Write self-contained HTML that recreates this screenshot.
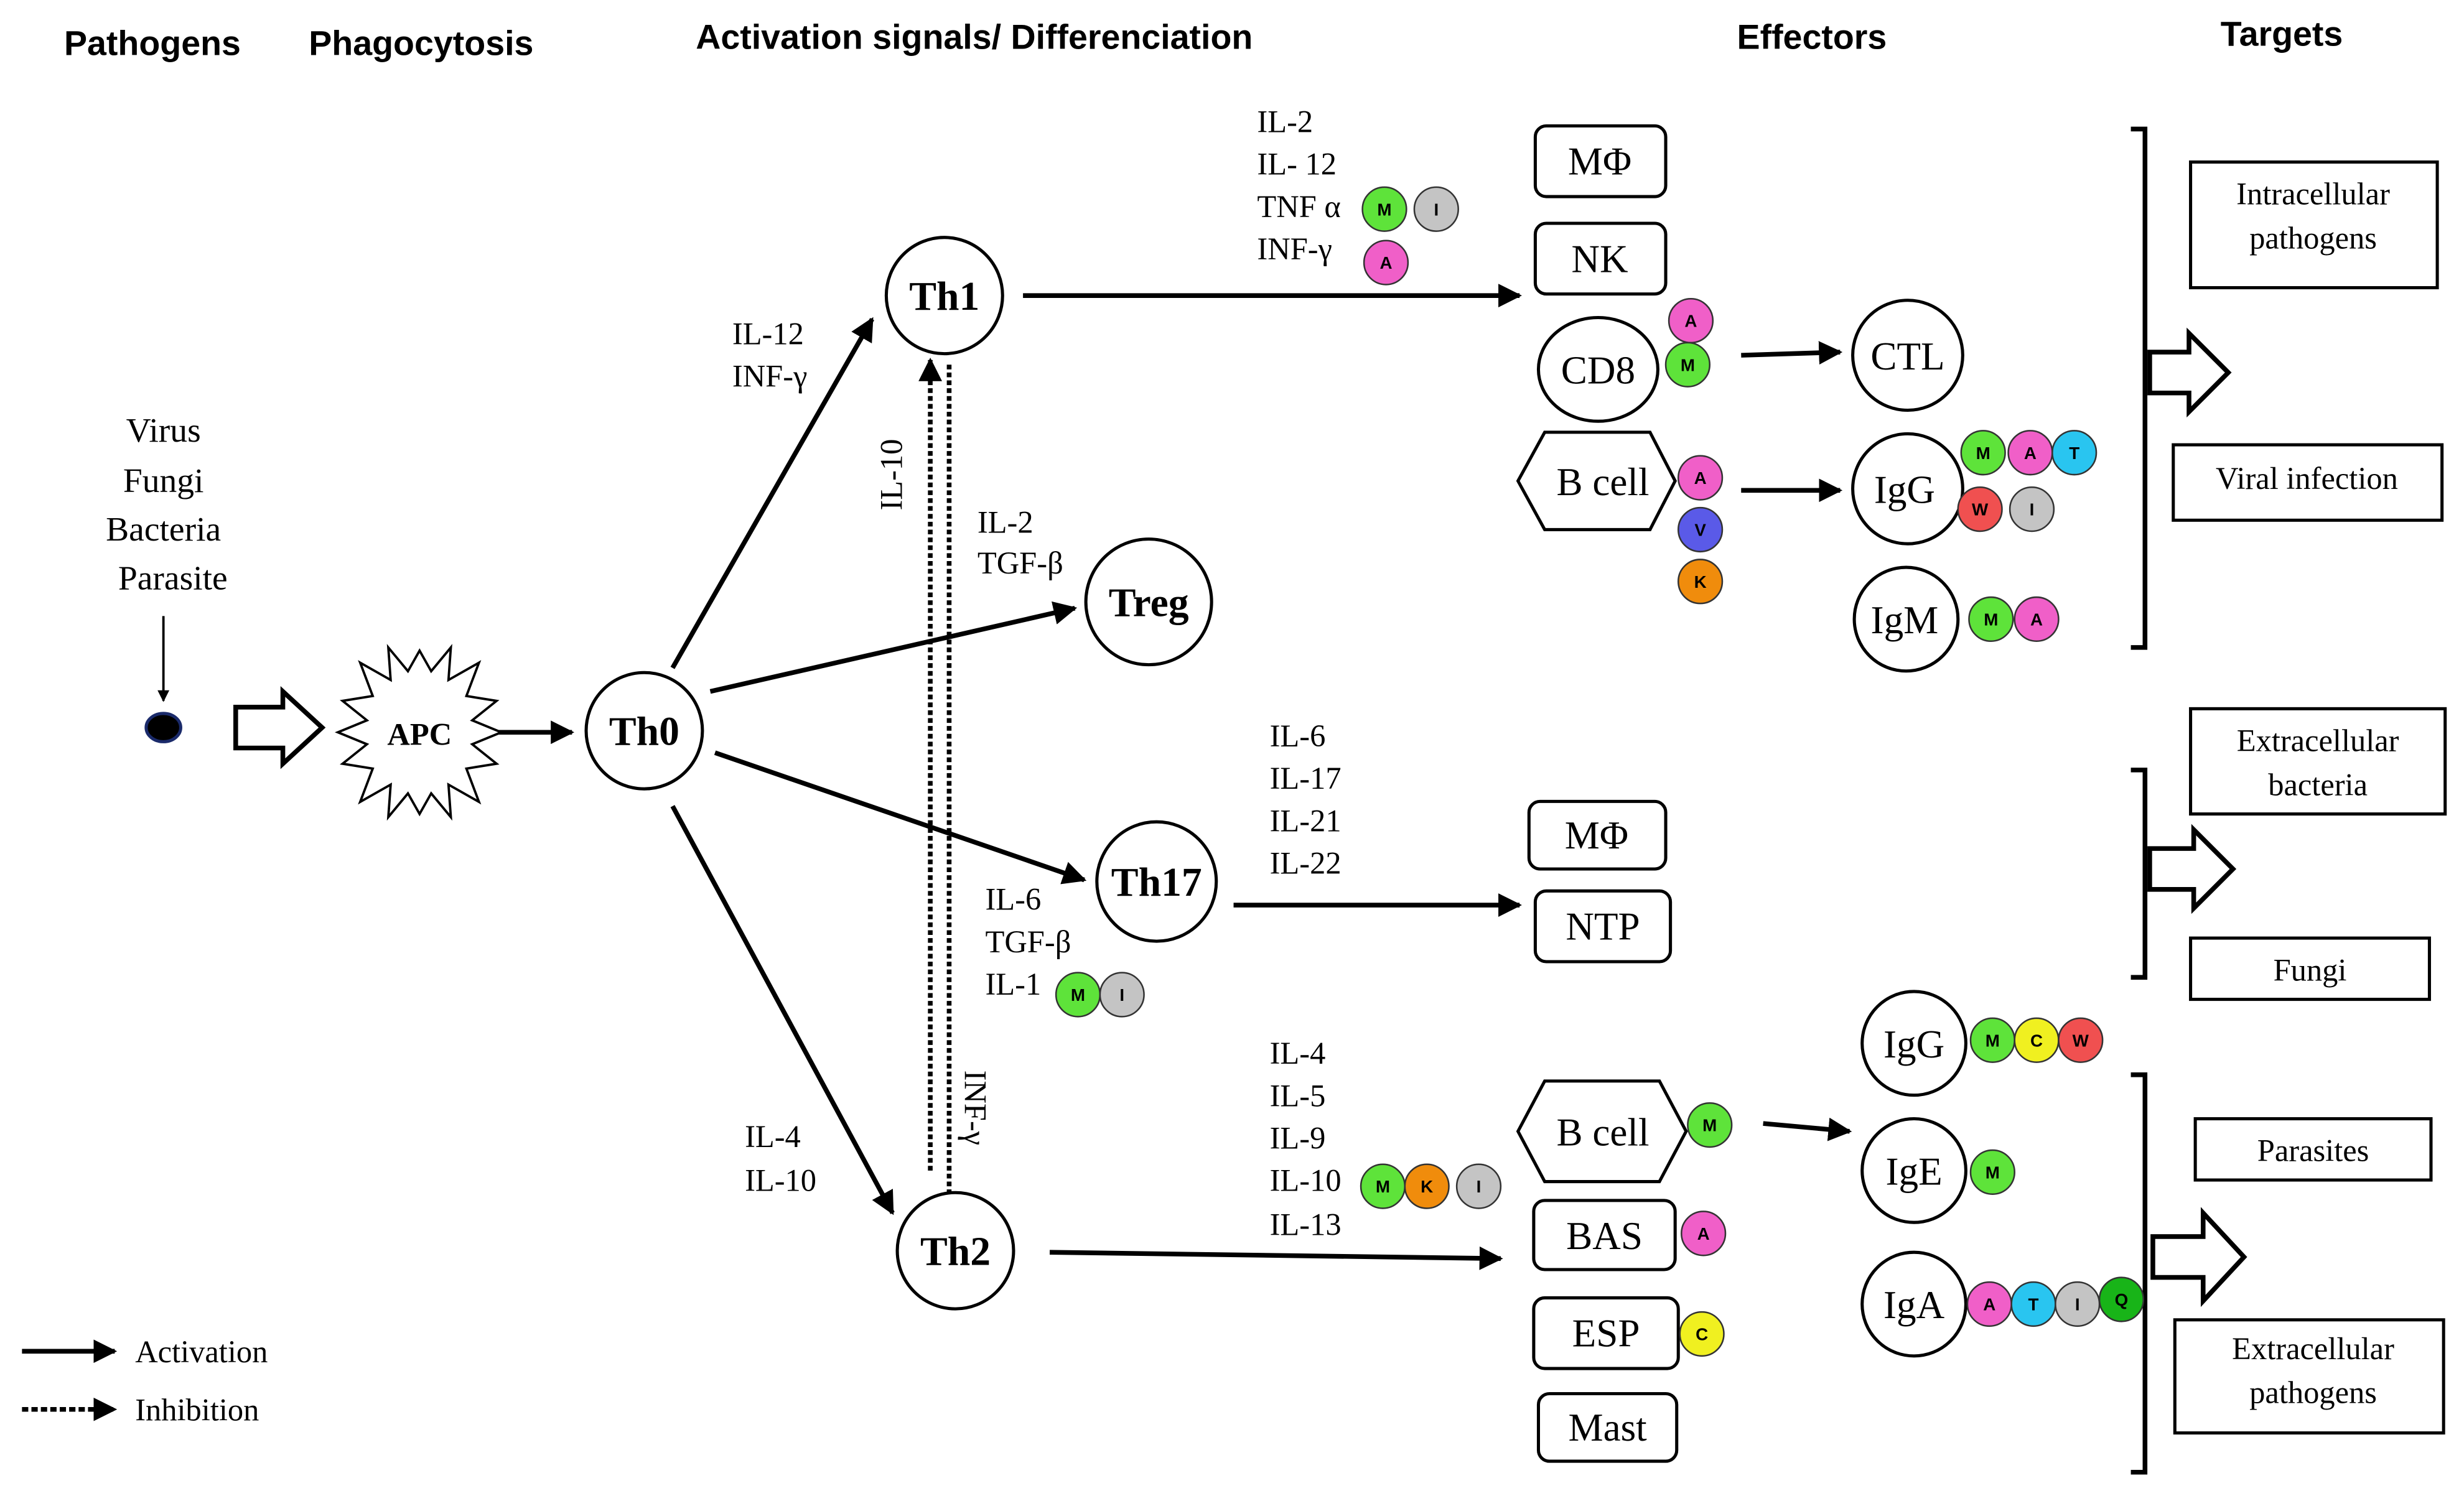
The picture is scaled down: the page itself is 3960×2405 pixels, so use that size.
<!DOCTYPE html>
<html><head><meta charset="utf-8"><style>
html,body{margin:0;padding:0;background:#fff;}
svg{display:block;}
.h{font-family:"Liberation Sans",sans-serif;font-weight:bold;font-size:22px;text-anchor:middle;}
.t{font-family:"Liberation Serif",serif;font-size:20px;}
.c{font-family:"Liberation Serif",serif;font-size:25px;text-anchor:middle;}
.b{font-family:"Liberation Serif",serif;font-size:26px;font-weight:bold;text-anchor:middle;}
.bd{font-family:"Liberation Sans",sans-serif;font-size:11px;font-weight:bold;text-anchor:middle;}
</style></head><body>
<svg width="3960" height="2405" viewBox="0 0 1568 952" xmlns="http://www.w3.org/2000/svg">
<defs>
<marker id="ah" viewBox="0 0 10 10" refX="9" refY="5" markerWidth="5" markerHeight="5" orient="auto-start-reverse"><path d="M0,0 L10,5 L0,10 z" fill="#000"/></marker>
</defs>
<rect width="1568" height="952" fill="#fff"/>
<text class="h" x="97" y="35">Pathogens</text>
<text class="h" x="268" y="35">Phagocytosis</text>
<text class="h" x="620" y="31">Activation signals/ Differenciation</text>
<text class="h" x="1153" y="31">Effectors</text>
<text class="h" x="1452" y="29">Targets</text>

<g class="t" text-anchor="middle" style="font-size:22px">
<text x="104" y="281">Virus</text><text x="104" y="313">Fungi</text><text x="104" y="344">Bacteria</text><text x="110" y="375">Parasite</text>
</g>
<g stroke="#000" stroke-width="3" fill="none">
<line x1="104" y1="392" x2="104" y2="446" stroke-width="1.5" marker-end="url(#ah)"/>
<line x1="315" y1="466" x2="364" y2="466" marker-end="url(#ah)"/>
<line x1="428" y1="425" x2="555" y2="203" marker-end="url(#ah)"/>
<line x1="452" y1="440" x2="684" y2="387" marker-end="url(#ah)"/>
<line x1="455" y1="479" x2="690" y2="560" marker-end="url(#ah)"/>
<line x1="428" y1="513" x2="568" y2="772" marker-end="url(#ah)"/>
<line x1="651" y1="188" x2="967" y2="188" marker-end="url(#ah)"/>
<line x1="785" y1="576" x2="967" y2="576" marker-end="url(#ah)"/>
<line x1="668" y1="797" x2="955" y2="801" marker-end="url(#ah)"/>
<line x1="1108" y1="226" x2="1171" y2="224" marker-end="url(#ah)"/>
<line x1="1108" y1="312" x2="1171" y2="312" marker-end="url(#ah)"/>
<line x1="1122" y1="715" x2="1177" y2="720" marker-end="url(#ah)"/>
<line x1="592" y1="745" x2="592" y2="229" stroke-dasharray="3,2" marker-end="url(#ah)"/>
<line x1="604" y1="232" x2="604" y2="775" stroke-dasharray="3,2" marker-end="url(#ah)"/>
<line x1="14" y1="860" x2="73" y2="860" marker-end="url(#ah)"/>
<line x1="14" y1="897" x2="73" y2="897" stroke-dasharray="4,2" marker-end="url(#ah)"/>
</g>
<ellipse cx="104" cy="463" rx="11" ry="9" fill="#000" stroke="#1a2a6a" stroke-width="2"/>
<g fill="#fff" stroke="#000" stroke-width="3">
<path d="M150,450 L180,450 L180,440 L205,463 L180,486 L180,476 L150,476 Z"/>
<path d="M1368,224 L1393,224 L1393,212 L1418,237 L1393,262 L1393,250 L1368,250 Z"/>
<path d="M1368,540 L1396,540 L1396,528 L1421,553 L1396,578 L1396,566 L1368,566 Z"/>
<path d="M1370,787 L1402,787 L1402,772 L1428,800 L1402,828 L1402,813 L1370,813 Z"/>
</g>
<polygon fill="#fff" stroke="#000" stroke-width="1.5" points="319.0,466.0 300.5,473.6 316.0,486.0 296.8,489.1 304.8,510.3 285.4,499.3 286.9,520.0 274.4,504.9 267.0,518.0 259.6,504.9 247.1,520.0 248.6,499.3 229.2,510.3 237.2,489.1 218.0,486.0 233.5,473.6 215.0,466.0 233.5,458.4 218.0,446.0 237.2,442.9 229.2,421.7 248.6,432.7 247.1,412.0 259.6,427.1 267.0,414.0 274.4,427.1 286.9,412.0 285.4,432.7 304.8,421.7 296.8,442.9 316.0,446.0 300.5,458.4"/>
<text x="267" y="474" class="b" style="font-size:20px">APC</text>

<g fill="#fff" stroke="#000" stroke-width="2">
<circle cx="410" cy="465" r="37"/><circle cx="601" cy="188" r="37"/><circle cx="731" cy="383" r="40"/>
<circle cx="736" cy="561" r="38"/><circle cx="608" cy="796" r="37"/>
<ellipse cx="1017" cy="235" rx="38" ry="33"/><circle cx="1214" cy="226" r="35"/>
<circle cx="1214" cy="311" r="35"/><circle cx="1213" cy="394" r="33"/>
<circle cx="1218" cy="664" r="33"/><circle cx="1218" cy="745" r="33"/><circle cx="1218" cy="830" r="33"/>
<rect x="977" y="80" width="83" height="45" rx="7"/><rect x="977" y="142" width="83" height="45" rx="7"/>
<rect x="973" y="510" width="87" height="43" rx="7"/><rect x="977" y="567" width="86" height="45" rx="7"/>
<rect x="976" y="764" width="90" height="44" rx="7"/><rect x="976" y="826" width="92" height="45" rx="7"/>
<rect x="979" y="887" width="88" height="43" rx="7"/>
<polygon points="983,275 1050,275 1066,306 1050,337 983,337 966,306"/>
<polygon points="983,688 1056,688 1073,720 1056,752 983,752 966,720"/>
<rect x="1394" y="103" width="157" height="80"/><rect x="1383" y="283" width="171" height="48"/>
<rect x="1394" y="451" width="162" height="67"/><rect x="1394" y="597" width="152" height="39"/>
<rect x="1397" y="712" width="150" height="39"/><rect x="1384" y="840" width="171" height="72"/>
</g>
<g stroke="#000" stroke-width="3" fill="none">
<path d="M1356,82 L1365,82 L1365,412 L1356,412"/>
<path d="M1356,490 L1365,490 L1365,622 L1356,622"/>
<path d="M1356,684 L1365,684 L1365,937 L1356,937"/>
</g>
<g class="b"><text x="410" y="474">Th0</text><text x="601" y="197">Th1</text><text x="731" y="392">Treg</text><text x="736" y="570">Th17</text><text x="608" y="805">Th2</text></g>
<g class="c">
<text x="1018" y="111">MΦ</text><text x="1018" y="173">NK</text><text x="1017" y="244">CD8</text><text x="1214" y="235">CTL</text>
<text x="1020" y="315">B cell</text><text x="1212" y="320">IgG</text><text x="1212" y="403">IgM</text>
<text x="1016" y="540">MΦ</text><text x="1020" y="598">NTP</text>
<text x="1020" y="729">B cell</text><text x="1021" y="795">BAS</text><text x="1022" y="857">ESP</text><text x="1023" y="917">Mast</text>
<text x="1218" y="673">IgG</text><text x="1218" y="754">IgE</text><text x="1218" y="839">IgA</text>
</g>
<g class="t" text-anchor="middle">
<text x="1472" y="130">Intracellular</text><text x="1472" y="158">pathogens</text>
<text x="1468" y="311">Viral infection</text>
<text x="1475" y="478">Extracellular</text><text x="1475" y="506">bacteria</text>
<text x="1470" y="624">Fungi</text><text x="1472" y="739">Parasites</text>
<text x="1472" y="865">Extracellular</text><text x="1472" y="893">pathogens</text>
</g>
<g class="t">
<text x="466" y="219">IL-12</text><text x="466" y="246">INF-γ</text>
<text x="622" y="339">IL-2</text><text x="622" y="365">TGF-β</text>
<text x="627" y="579">IL-6</text><text x="627" y="606">TGF-β</text><text x="627" y="633">IL-1</text>
<text x="474" y="730">IL-4</text><text x="474" y="758">IL-10</text>
<text x="800" y="84">IL-2</text><text x="800" y="111">IL- 12</text><text x="800" y="138">TNF α</text><text x="800" y="165">INF-γ</text>
<text x="808" y="475">IL-6</text><text x="808" y="502">IL-17</text><text x="808" y="529">IL-21</text><text x="808" y="556">IL-22</text>
<text x="808" y="677">IL-4</text><text x="808" y="704">IL-5</text><text x="808" y="731">IL-9</text><text x="808" y="758">IL-10</text><text x="808" y="786">IL-13</text>
<text transform="translate(574,302) rotate(-90)" text-anchor="middle">IL-10</text>
<text transform="translate(614,705) rotate(90)" text-anchor="middle">INF-γ</text>
<text x="86" y="867">Activation</text><text x="86" y="904">Inhibition</text>
</g>
<g stroke="#333" stroke-width="1">
<circle cx="881" cy="133" r="14" fill="#5ee33a"/><circle cx="914" cy="133" r="14" fill="#c4c4c4"/><circle cx="882" cy="167" r="14" fill="#f05fc8"/>
<circle cx="1076" cy="204" r="14" fill="#f05fc8"/><circle cx="1074" cy="232" r="14" fill="#5ee33a"/>
<circle cx="1082" cy="304" r="14" fill="#f05fc8"/><circle cx="1082" cy="337" r="14" fill="#5a5ae8"/><circle cx="1082" cy="370" r="14" fill="#f08c0c"/>
<circle cx="1262" cy="288" r="14" fill="#5ee33a"/><circle cx="1292" cy="288" r="14" fill="#f05fc8"/><circle cx="1320" cy="288" r="14" fill="#29c5f0"/>
<circle cx="1260" cy="324" r="14" fill="#f05050"/><circle cx="1293" cy="324" r="14" fill="#c4c4c4"/>
<circle cx="1267" cy="394" r="14" fill="#5ee33a"/><circle cx="1296" cy="394" r="14" fill="#f05fc8"/>
<circle cx="686" cy="633" r="14" fill="#5ee33a"/><circle cx="714" cy="633" r="14" fill="#c4c4c4"/>
<circle cx="880" cy="755" r="14" fill="#5ee33a"/><circle cx="908" cy="755" r="14" fill="#f08c0c"/><circle cx="941" cy="755" r="14" fill="#c4c4c4"/>
<circle cx="1088" cy="716" r="14" fill="#5ee33a"/><circle cx="1084" cy="785" r="14" fill="#f05fc8"/><circle cx="1083" cy="849" r="14" fill="#f0f020"/>
<circle cx="1268" cy="662" r="14" fill="#5ee33a"/><circle cx="1296" cy="662" r="14" fill="#f0f020"/><circle cx="1324" cy="662" r="14" fill="#f05050"/>
<circle cx="1268" cy="746" r="14" fill="#5ee33a"/>
<circle cx="1266" cy="830" r="14" fill="#f05fc8"/><circle cx="1294" cy="830" r="14" fill="#29c5f0"/><circle cx="1322" cy="830" r="14" fill="#c4c4c4"/><circle cx="1350" cy="827" r="14" fill="#18b418"/>
</g>
<g class="bd">
<text x="881" y="137">M</text><text x="914" y="137">I</text><text x="882" y="171">A</text>
<text x="1076" y="208">A</text><text x="1074" y="236">M</text>
<text x="1082" y="308">A</text><text x="1082" y="341">V</text><text x="1082" y="374">K</text>
<text x="1262" y="292">M</text><text x="1292" y="292">A</text><text x="1320" y="292">T</text><text x="1260" y="328">W</text><text x="1293" y="328">I</text>
<text x="1267" y="398">M</text><text x="1296" y="398">A</text>
<text x="686" y="637">M</text><text x="714" y="637">I</text>
<text x="880" y="759">M</text><text x="908" y="759">K</text><text x="941" y="759">I</text>
<text x="1088" y="720">M</text><text x="1084" y="789">A</text><text x="1083" y="853">C</text>
<text x="1268" y="666">M</text><text x="1296" y="666">C</text><text x="1324" y="666">W</text>
<text x="1268" y="750">M</text>
<text x="1266" y="834">A</text><text x="1294" y="834">T</text><text x="1322" y="834">I</text><text x="1350" y="831">Q</text>
</g>
</svg>
</body></html>
